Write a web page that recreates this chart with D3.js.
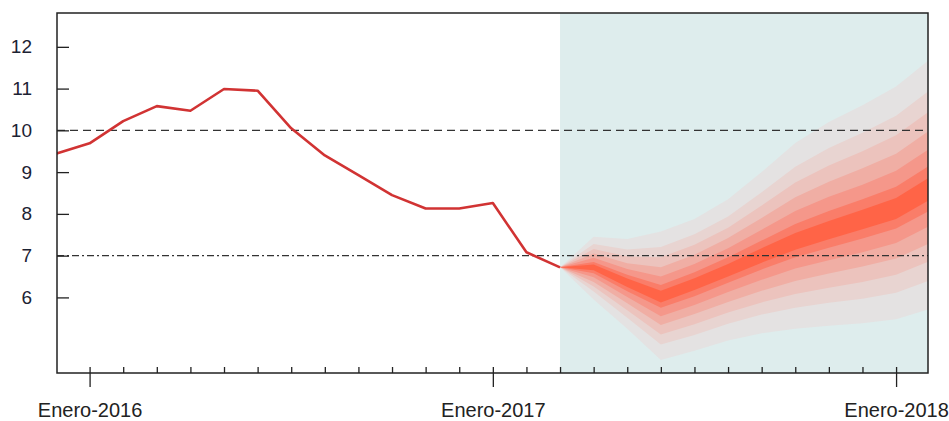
<!DOCTYPE html>
<html>
<head>
<meta charset="utf-8">
<script src="https://cdn.jsdelivr.net/npm/d3@7"></script>
<style>
  html, body { margin: 0; padding: 0; background: #ffffff; }
  svg { display: block; }
  text { font-family: "Liberation Sans", Arial, sans-serif; }
</style>
</head>
<body>
<svg id="chart" width="949" height="421"></svg>
<script>
// ---------------- DATA ----------------
// Observed series (monthly)
const histMonths = ["2015-12","2016-01","2016-02","2016-03","2016-04","2016-05","2016-06","2016-07",
                    "2016-08","2016-09","2016-10","2016-11","2016-12","2017-01","2017-02","2017-03"];
const histValues = [9.44, 9.69, 10.22, 10.58, 10.47, 10.99, 10.95, 10.05,
                    9.40, 8.93, 8.45, 8.13, 8.13, 8.26, 7.08, 6.72];

// Forecast fan (monthly quantiles)
const fanMonths = ["2017-03","2017-04","2017-05","2017-06","2017-07","2017-08",
                   "2017-09","2017-10","2017-11","2017-12","2018-01","2018-02"];
const q025 = [6.72, 5.95, 5.25, 4.50, 4.72, 4.97, 5.14, 5.25, 5.32, 5.38, 5.48, 5.72];
const q05  = [6.72, 6.14, 5.51, 4.87, 5.10, 5.37, 5.59, 5.75, 5.87, 5.97, 6.11, 6.41];
const q10  = [6.72, 6.26, 5.69, 5.11, 5.36, 5.64, 5.88, 6.08, 6.23, 6.37, 6.54, 6.87];
const q20  = [6.72, 6.37, 5.86, 5.34, 5.60, 5.89, 6.16, 6.39, 6.57, 6.74, 6.93, 7.30];
const q30  = [6.72, 6.48, 6.01, 5.55, 5.82, 6.13, 6.42, 6.69, 6.89, 7.08, 7.30, 7.71];
const q40  = [6.72, 6.58, 6.15, 5.75, 6.03, 6.35, 6.67, 6.96, 7.19, 7.41, 7.65, 8.08];
const q45  = [6.72, 6.65, 6.25, 5.88, 6.18, 6.50, 6.83, 7.14, 7.39, 7.63, 7.88, 8.34];
const q55  = [6.72, 6.79, 6.45, 6.16, 6.46, 6.80, 7.18, 7.54, 7.83, 8.10, 8.38, 8.88];
const q60  = [6.72, 6.85, 6.54, 6.30, 6.60, 6.96, 7.36, 7.76, 8.07, 8.35, 8.65, 9.16];
const q70  = [6.72, 6.95, 6.68, 6.50, 6.80, 7.18, 7.62, 8.07, 8.41, 8.70, 9.03, 9.56];
const q80  = [6.72, 7.05, 6.82, 6.72, 7.02, 7.42, 7.90, 8.40, 8.77, 9.09, 9.44, 10.00];
const q90  = [6.72, 7.16, 6.98, 6.96, 7.26, 7.67, 8.20, 8.75, 9.16, 9.50, 9.88, 10.46];
const q95  = [6.72, 7.28, 7.15, 7.21, 7.51, 7.94, 8.52, 9.13, 9.58, 9.94, 10.35, 10.96];
const q975 = [6.72, 7.45, 7.40, 7.58, 7.88, 8.35, 9.00, 9.70, 10.20, 10.60, 11.05, 11.70];

// Axis ticks
const yTicks = [6, 7, 8, 9, 10, 11, 12];
const xMajorMonths = ["2016-01", "2017-01", "2018-01"];
const xMajorLabels = ["Enero-2016", "Enero-2017", "Enero-2018"];
const refDashed = 10;
const refDashDot = 7;
const forecastStart = "2017-03";

// ---------------- CHART ----------------
const svg = d3.select("#chart");
const L = 57, R = 928, T = 13, B = 373;

// month string -> month index relative to Jan 2016
const mi = s => { const [yy, mm] = s.split("-").map(Number); return (yy - 2016) * 12 + (mm - 1); };

const x = d3.scaleLinear().domain([-0.97, 24.95]).range([L, R]);
const y = d3.scaleLinear().domain([4.19, 12.81]).range([B, T]);

svg.append("defs").append("clipPath").attr("id", "clip")
  .append("rect").attr("x", L).attr("y", T).attr("width", R - L).attr("height", B - T);

const plot = svg.append("g").attr("clip-path", "url(#clip)");

// forecast background
plot.append("rect")
  .attr("x", x(mi(forecastStart))).attr("y", T)
  .attr("width", R - x(mi(forecastStart))).attr("height", B - T)
  .attr("fill", "#deeded");

// fan bands (outer -> inner)
const bands = [
  [q025, q975, "#e4e2e2"],
  [q05,  q95,  "#e8d4d1"],
  [q10,  q90,  "#ecc3bd"],
  [q20,  q80,  "#f0aea4"],
  [q30,  q70,  "#f5978a"],
  [q40,  q60,  "#fa7d69"],
  [q45,  q55,  "#ff6447"]
];
const fanX = fanMonths.map(mi);
bands.forEach(([lo, hi, col]) => {
  const area = d3.area()
    .x((d, i) => x(fanX[i]))
    .y0((d, i) => y(lo[i]))
    .y1((d, i) => y(hi[i]));
  plot.append("path").datum(lo).attr("d", area).attr("fill", col).attr("stroke", "none");
});

// reference lines
plot.append("line")
  .attr("x1", L).attr("x2", R).attr("y1", y(refDashed)).attr("y2", y(refDashed))
  .attr("stroke", "#333").attr("stroke-width", 1.3).attr("stroke-dasharray", "8,5");
plot.append("line")
  .attr("x1", L).attr("x2", R).attr("y1", y(refDashDot)).attr("y2", y(refDashDot))
  .attr("stroke", "#333").attr("stroke-width", 1.3).attr("stroke-dasharray", "7,3,2,3");

// observed line
const line = d3.line().x((d, i) => x(mi(histMonths[i]))).y(d => y(d));
plot.append("path").datum(histValues).attr("d", line)
  .attr("fill", "none").attr("stroke", "#d13333").attr("stroke-width", 2.6)
  .attr("stroke-linejoin", "round");

// Y axis (inward ticks)
const yAxis = d3.axisLeft(y).tickValues(yTicks).tickFormat(d3.format("d"))
  .tickSizeInner(-12).tickSizeOuter(0).tickPadding(25);
const gy = svg.append("g").attr("transform", `translate(${L},0)`).call(yAxis);
gy.select(".domain").remove();
gy.selectAll(".tick line").attr("stroke", "#222").attr("stroke-width", 1.3);
gy.selectAll(".tick text").attr("font-size", 19).attr("fill", "#1c2233");

// X axis: monthly minor ticks (inward)
const monthTicks = d3.range(mi("2016-01"), mi("2018-01") + 1);
const xMinor = d3.axisBottom(x).tickValues(monthTicks).tickFormat("")
  .tickSizeInner(-6).tickSizeOuter(0);
const gxm = svg.append("g").attr("transform", `translate(0,${B})`).call(xMinor);
gxm.select(".domain").remove();
gxm.selectAll(".tick line").attr("stroke", "#222").attr("stroke-width", 1.3);

// X axis: yearly major ticks (outward) with labels
const xMajor = d3.axisBottom(x).tickValues(xMajorMonths.map(mi))
  .tickFormat((d, i) => xMajorLabels[i])
  .tickSizeInner(14).tickSizeOuter(0).tickPadding(16);
const gx = svg.append("g").attr("transform", `translate(0,${B})`).call(xMajor);
gx.select(".domain").remove();
gx.selectAll(".tick line").attr("stroke", "#222").attr("stroke-width", 1.3);
gx.selectAll(".tick text").attr("font-size", 20).attr("fill", "#222");

// frame
svg.append("rect").attr("x", L).attr("y", T).attr("width", R - L).attr("height", B - T)
  .attr("fill", "none").attr("stroke", "#222").attr("stroke-width", 1.5);
</script>
</body>
</html>
